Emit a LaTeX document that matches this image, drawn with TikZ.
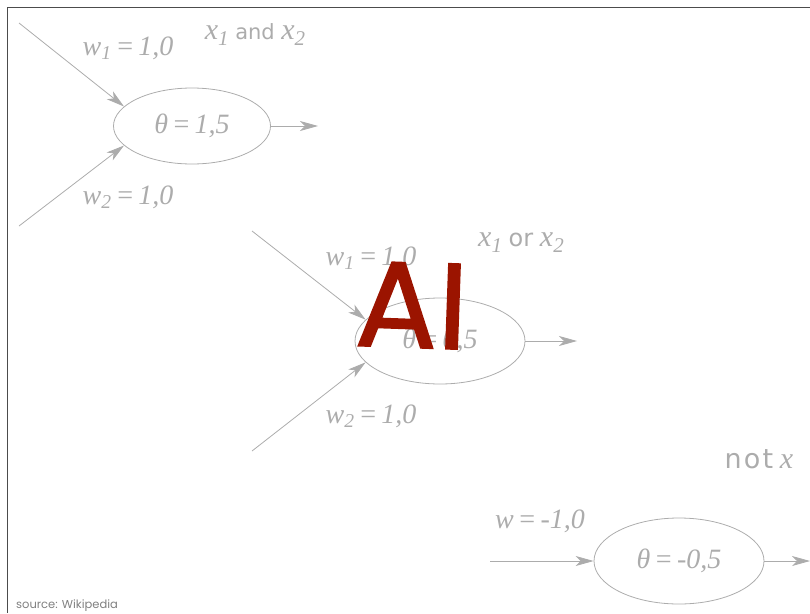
\documentclass[tikz,border=0pt]{standalone}
\usepackage{fontspec}
\setmainfont{Liberation Serif}
\newfontfamily\gatefont{DejaVu Sans}
\newfontfamily\aifont{Poppins}[FakeBold=1.4]
\newfontfamily\srcfont{Poppins}
\usetikzlibrary{arrows.meta,shapes.geometric}
\definecolor{ngray}{RGB}{172,172,172}
\definecolor{aired}{RGB}{155,20,0}
\newcommand{\eqs}{\hspace{0.14em}=\hspace{0.14em}}
\newcommand{\vx}[1]{{\rmfamily\itshape\fontsize{30}{30}\selectfont x\raisebox{-6pt}{\fontsize{21}{21}\selectfont #1}}}

\begin{document}
\begin{tikzpicture}[x=1pt,y=-1pt,
  neuron/.style={draw=ngray,line width=0.8pt,ellipse,inner sep=0pt,text=ngray,font=\fontsize{28}{28}\selectfont\itshape},
  wlabel/.style={text=ngray,inner sep=0pt,font=\fontsize{28}{28}\selectfont\itshape},
  gatelabel/.style={text=ngray,inner sep=0pt,font=\fontsize{21}{21}\selectfont\gatefont},
  link/.style={draw=ngray,line width=0.8pt,-{Stealth[length=18pt,width=10pt,inset=5pt]}}]
\useasboundingbox (0,0) rectangle (810,613);
\draw[line width=0.9pt,black!70] (810,7)--(7,7)--(7,613);
% and
\node[neuron,minimum width=157pt,minimum height=76pt] (and) at (192,126) {θ\eqs 1,5};
\coordinate (and-in1) at (19,23);\coordinate (and-in2) at (19,226);\coordinate (and-out) at (318,126);
\draw[link] (and-in1)--(and.164);
\draw[link] (and-in2)--(and.196);
\draw[link] (and.east)--(and-out);
\node[wlabel] (and-w1) at (128,48) {w\textsubscript{1}\eqs 1,0};
\node[wlabel] (and-w2) at (128,197) {w\textsubscript{2}\eqs 1,0};
\node[gatelabel] (and-name) at (255,35) {\vx{1} and \vx{2}};
% or
\node[neuron,minimum width=170pt,minimum height=86pt] (or) at (440,341) {θ\eqs 0,5};
\coordinate (or-in1) at (252,231);\coordinate (or-in2) at (252,451);\coordinate (or-out) at (577,341);
\draw[link] (or-in1)--(or.164);
\draw[link] (or-in2)--(or.196);
\draw[link] (or.east)--(or-out);
\node[wlabel] (or-w1) at (371,258) {w\textsubscript{1}\eqs 1,0};
\node[wlabel] (or-w2) at (371,416) {w\textsubscript{2}\eqs 1,0};
\node[gatelabel] (or-name) at (521,243) {\vx{1} {\fontsize{24}{24}\selectfont or} \vx{2}};
% not
\node[neuron,minimum width=170pt,minimum height=86pt] (not) at (679,561) {θ\eqs -0,5};
\coordinate (not-in) at (490,561);\coordinate (not-out) at (810,561);
\draw[link] (not-in)--(not.west);
\draw[link] (not.east)--(not-out);
\node[wlabel] (not-w) at (540,521) {w\eqs -1,0};
\node[gatelabel] (not-name) at (759,462) {{\fontsize{27}{27}\selectfont\addfontfeatures{LetterSpace=8}not} \vx{}};
\node[text=aired,inner sep=0pt,rotate=-2,font=\fontsize{122}{122}\selectfont\aifont] (ai) at (412,305) {AI};
\node[anchor=base west,inner sep=0pt,text=black!50,font=\fontsize{11.5}{11.5}\selectfont\srcfont] (src) at (16,608) {source: Wikipedia};
\end{tikzpicture}
\end{document}
